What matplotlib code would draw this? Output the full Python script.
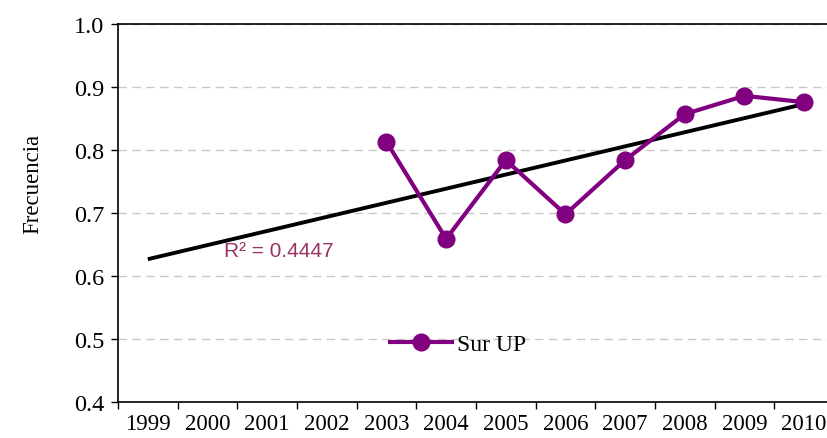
import numpy as np
import matplotlib
matplotlib.use('Agg')
import matplotlib.pyplot as plt

# categories on the x axis
years = ['1999', '2000', '2001', '2002', '2003', '2004', '2005', '2006',
         '2007', '2008', '2009', '2010']

# Sur UP series (only 2003-2010 have values)
sur_years = ['2003', '2004', '2005', '2006', '2007', '2008', '2009', '2010']
sur_values = [0.813, 0.659, 0.784, 0.698, 0.784, 0.857, 0.886, 0.876]

r2_label = 'R\u00b2 = 0.4447'

serif = ['Liberation Serif', 'DejaVu Serif']
sans = ['Liberation Sans', 'DejaVu Sans']

fig = plt.figure(figsize=(8.28, 4.39), dpi=100)
ax = fig.add_axes([0.1425, 0.082, 0.8647, 0.861])

# category centers
x_all = np.arange(len(years)) + 0.5
x_sur = np.array([years.index(y) for y in sur_years]) + 0.5

# linear trend (Excel style) fitted on the series, drawn across all years
coef = np.polyfit(x_sur, sur_values, 1)
ax.plot([x_all[0], x_all[-1]], np.polyval(coef, [x_all[0], x_all[-1]]),
        color='black', lw=2.8, solid_capstyle='butt', zorder=3)

ax.plot(x_sur, sur_values, color='#800080', lw=3, marker='o', markersize=12,
        label='Sur UP', zorder=4, clip_on=False)

ax.set_xlim(0, len(years))
ax.set_ylim(0.4, 1.0)

# y axis
ax.set_yticks(np.arange(0.4, 1.01, 0.1))
ax.set_yticklabels(['%.1f' % v for v in np.arange(0.4, 1.01, 0.1)],
                   fontfamily=serif, fontsize=17.5)
ax.tick_params(axis='y', direction='out', length=5, width=1, pad=5)
ax.yaxis.grid(True, color='#c8c8c8', linestyle=(0, (6, 4)), lw=1)
ax.set_axisbelow(True)

# x axis: tick marks between categories, labels at centers
ax.set_xticks(np.arange(0, len(years) + 1), minor=True)
ax.set_xticks(x_all)
ax.set_xticklabels(years, fontfamily=serif, fontsize=16.5)
ax.tick_params(axis='x', which='major', length=0, pad=8)
ax.tick_params(axis='x', which='minor', direction='out', length=5, width=1)

ax.set_ylabel('Frecuencia', fontfamily=serif, fontsize=16.5)
ax.yaxis.set_label_coords(-0.105, 0.58)

for s in ['left', 'bottom', 'top']:
    ax.spines[s].set_linewidth(1.2)
ax.spines['right'].set_visible(False)

ax.text(1.78, 0.64, r2_label, color='#993366', fontfamily=sans, fontsize=15,
        va='center', ha='left')

leg = ax.legend(loc='center', bbox_to_anchor=(0.475, 0.153), frameon=False,
                prop={'family': serif, 'size': 17}, handlelength=2.6,
                handletextpad=0.2)

fig.savefig('out.png', dpi=100)
